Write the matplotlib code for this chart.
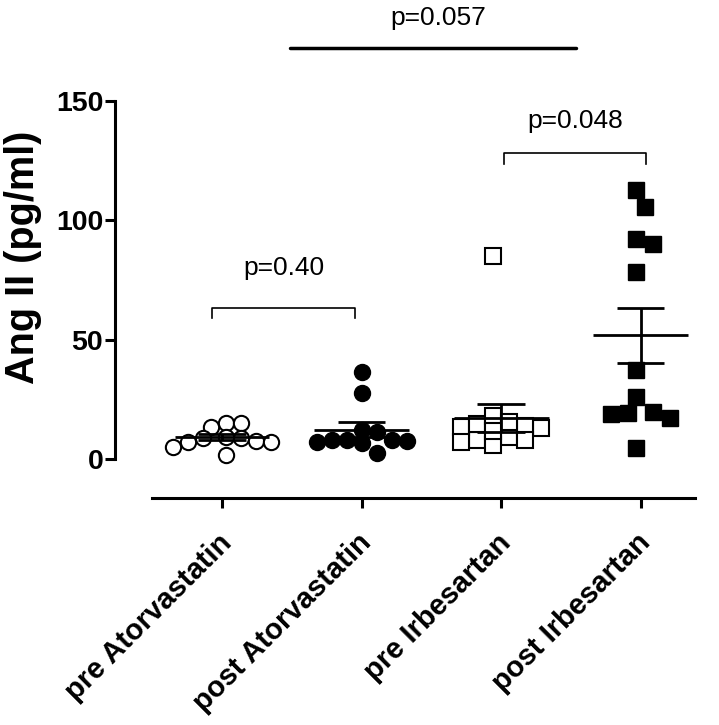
import numpy as np
import matplotlib
matplotlib.use("Agg")
import matplotlib.pyplot as plt
from matplotlib.transforms import ScaledTranslation

plt.rcParams['font.family'] = ['Liberation Sans', 'DejaVu Sans']

categories = ["pre Atorvastatin", "post Atorvastatin", "pre Irbesartan", "post Irbesartan"]
pre_atorvastatin = [15.0, 13.5, 15.0, 9.0, 9.3, 9.0, 7.5, 7.2, 7.2, 5.0, 1.7]
post_atorvastatin = [36.5, 27.7, 12.1, 11.4, 8.0, 7.5, 8.0, 8.0, 7.2, 6.6, 2.4]
pre_irbesartan = [85.0, 12.8, 8.0, 13.4, 14.6, 18.0, 9.3, 6.0, 13.8, 7.2, 8.0, 15.6, 11.8]
post_irbesartan = [112.6, 105.6, 92.3, 90.0, 78.4, 37.2, 25.8, 18.7, 19.8, 17.0, 19.1, 4.5]
series = [pre_atorvastatin, post_atorvastatin, pre_irbesartan, post_irbesartan]
y_ticks = [0, 50, 100, 150]
y_label = "Ang II (pg/ml)"
comparisons = [  # (x1, x2, bracket y, label y, label)
    (-0.07, 0.95, 63.4, 79.9, "p=0.40"),
    (2.02, 3.04, 128.0, 141.5, "p=0.048"),
]
overall = (0.49, 2.54, 172.0, 184.7, "p=0.057")

W, H, DPI = 7.19, 7.25, 100
fig = plt.figure(figsize=(W, H), dpi=DPI)
ax = fig.add_axes([115 / 719, (725 - 498) / 725, (695 - 115) / 719, 498 / 725])
ax.set_xlim(-0.767, 3.39)
ax.set_ylim(-16.34, 192.3)

# pixel scales
px_x = (695 - 115) / (3.39 + 0.767)
px_y = 498 / (192.3 + 16.34)

def swarm(vals, d_px, min_frac=1.0):
    vals = np.asarray(vals, float)
    order = np.argsort(-vals)
    placed = []
    offs = np.zeros(len(vals))
    for i in order:
        y = vals[i] * px_y
        for k in range(0, 40):
            step = (k + 1) // 2 * (1 if k % 2 == 1 else -1)
            x = step * d_px * 0.5
            if all((x - px) ** 2 + (y - py) ** 2 >= (d_px * min_frac) ** 2 for px, py in placed):
                break
        placed.append((x, y))
        offs[i] = x / px_x
    offs -= (offs.max() + offs.min()) / 2
    return offs

styles = [
    dict(marker='o', mfc='white', mec='black', ms=11, mew=1.5),
    dict(marker='o', mfc='black', mec='black', ms=11.5, mew=1.0),
    dict(marker='s', mfc='white', mec='black', ms=11.5, mew=1.5),
    dict(marker='s', mfc='black', mec='black', ms=11.5, mew=1.0),
]
dpx = [15, 15, 16, 17]
fracs = [0.85, 0.85, 0.85, 1.0]

for i, (vals, st) in enumerate(zip(series, styles)):
    offs = swarm(vals, dpx[i], fracs[i])
    ax.plot(i + offs, vals, linestyle='none', zorder=3, clip_on=False, **st)
    v = np.asarray(vals)
    m = v.mean()
    sem = v.std(ddof=1) / np.sqrt(len(v))
    ax.hlines(m, i - 0.34, i + 0.34, color='black', lw=2.0, zorder=4)
    ax.vlines(i, m - sem, m + sem, color='black', lw=2.0, zorder=4)
    ax.hlines([m - sem, m + sem], i - 0.17, i + 0.17, color='black', lw=2.0, zorder=4)

# spines
for s in ['top', 'right']:
    ax.spines[s].set_visible(False)
ax.spines['left'].set_bounds(0, 150)
ax.spines['bottom'].set_bounds(-0.5, 3.39)
ax.spines['left'].set_linewidth(2.2)
ax.spines['bottom'].set_linewidth(2.2)

ax.set_yticks(y_ticks)
ax.set_yticklabels([str(t) for t in y_ticks], fontsize=20.5, fontweight='bold')
ax.set_xticks(range(len(categories)))
ax.set_xticklabels(categories, fontsize=21, fontweight='bold', rotation=45,
                   ha='right', va='top', rotation_mode='anchor')
ax.tick_params(axis='both', width=2.2, length=7, direction='out')
ax.tick_params(axis='y', pad=1.5)
ax.tick_params(axis='x', pad=15)
off = ScaledTranslation(-3 / 72, 0, fig.dpi_scale_trans)
for lab in ax.get_xticklabels():
    lab.set_transform(lab.get_transform() + off)

fig.text(23 / 719, 1 - 257 / 725, y_label, rotation=90, ha='center', va='center',
         fontsize=28.5, fontweight='bold')

# comparison brackets
for x1, x2, y, ty, lab in comparisons:
    ax.plot([x1, x1, x2, x2], [y - 4.5, y, y, y - 4.5], color='black', lw=1.2, clip_on=False)
    ax.text((x1 + x2) / 2, ty, lab, ha='center', va='center', fontsize=19)

x1, x2, y, ty, lab = overall
ax.plot([x1, x2], [y, y], color='black', lw=2.5, clip_on=False, solid_capstyle='round')
ax.text(1.55, ty, lab, ha='center', va='center', fontsize=19, clip_on=False)

fig.savefig("out.png", dpi=DPI)
